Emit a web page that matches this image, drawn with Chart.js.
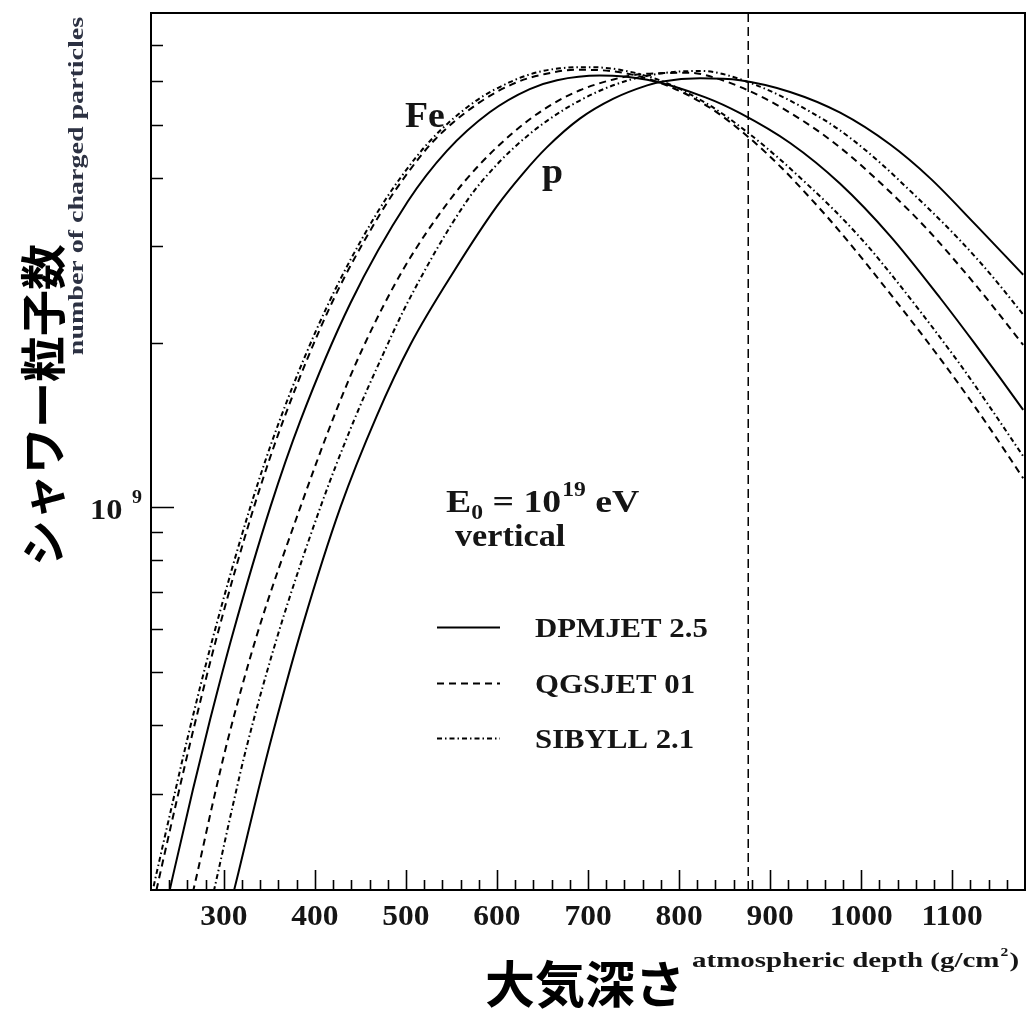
<!DOCTYPE html>
<html><head><meta charset="utf-8">
<script src="https://cdn.jsdelivr.net/npm/chart.js@4.4.0/dist/chart.umd.min.js"></script>
<style>html,body{margin:0;padding:0;background:#fff;}canvas{display:block;}</style>
</head><body>
<canvas id="c" width="1028" height="1015"></canvas>
<script>
// ---- data (depth in g/cm^2, number of charged particles) ----
const depthDpmjetFe = [240, 244, 266, 285, 310, 351, 384, 439, 502, 545, 592, 636, 666, 713, 765, 829, 867, 922, 977, 1032, 1087, 1123, 1153, 1178];
const nDpmjetFe     = [1.98e8, 2.12e8, 3.05e8, 4.10e8, 5.89e8, 1.00e9, 1.439e9, 2.36e9, 3.62e9, 4.48e9, 5.27e9, 5.81e9, 6.03e9, 6.15e9, 6.04e9, 5.61e9, 5.25e9, 4.63e9, 3.90e9, 3.13e9, 2.41e9, 2.01e9, 1.72e9, 1.507e9];

const depthDpmjetP = [311, 316, 338, 354, 387, 428, 468, 505, 554, 600, 629, 655, 691, 728, 765, 782, 823, 867, 922, 977, 1032, 1076, 1123, 1178];
const nDpmjetP     = [1.99e8, 2.15e8, 3.05e8, 3.88e8, 6.12e8, 1.00e9, 1.47e9, 1.984e9, 2.72e9, 3.55e9, 4.08e9, 4.55e9, 5.13e9, 5.58e9, 5.90e9, 6.00e9, 6.08e9, 6.03e9, 5.74e9, 5.26e9, 4.60e9, 3.99e9, 3.32e9, 2.66e9];

const depthQgsjetFe = [226, 228, 249, 265, 293, 333, 366, 419, 470, 499, 532, 580, 622, 653, 686, 724, 782, 834, 876, 914, 941, 963, 985, 1007, 1092, 1142, 1178];
const nQgsjetFe     = [2.00e8, 2.07e8, 2.95e8, 3.83e8, 5.86e8, 1.00e9, 1.452e9, 2.37e9, 3.40e9, 4.02e9, 4.70e9, 5.48e9, 5.98e9, 6.19e9, 6.30e9, 6.27e9, 5.94e9, 5.37e9, 4.75e9, 4.15e9, 3.72e9, 3.39e9, 3.07e9, 2.77e9, 1.82e9, 1.39e9, 1.13e9];

const depthQgsjetP = [266, 272, 287, 304, 336, 384, 424, 453, 497, 548, 581, 618, 655, 691, 728, 757, 812, 845, 892, 925, 955, 985, 1013, 1039, 1072, 1101, 1123, 1142, 1178];
const nQgsjetP     = [1.98e8, 2.19e8, 2.84e8, 3.74e8, 5.82e8, 1.00e9, 1.51e9, 1.96e9, 2.72e9, 3.64e9, 4.23e9, 4.84e9, 5.38e9, 5.78e9, 6.05e9, 6.18e9, 6.22e9, 6.05e9, 5.61e9, 5.22e9, 4.84e9, 4.43e9, 4.03e9, 3.67e9, 3.23e9, 2.85e9, 2.58e9, 2.36e9, 1.98e9];

const depthSibyllFe = [220, 222, 244, 261, 288, 329, 362, 414, 466, 495, 528, 575, 614, 642, 669, 702, 735, 782, 834, 876, 911, 941, 969, 996, 1021, 1105, 1142, 1178];
const nSibyllFe     = [1.93e8, 2.00e8, 2.90e8, 3.84e8, 5.78e8, 1.00e9, 1.452e9, 2.34e9, 3.40e9, 4.02e9, 4.70e9, 5.50e9, 5.98e9, 6.22e9, 6.34e9, 6.37e9, 6.30e9, 6.00e9, 5.42e9, 4.83e9, 4.32e9, 3.89e9, 3.51e9, 3.15e9, 2.82e9, 1.86e9, 1.52e9, 1.24e9];

const depthSibyllP = [289, 293, 310, 325, 358, 406, 442, 475, 502, 567, 600, 636, 673, 710, 746, 782, 823, 881, 958, 988, 1021, 1050, 1079, 1105, 1131, 1156, 1178];
const nSibyllP     = [1.99e8, 2.13e8, 2.86e8, 3.65e8, 5.75e8, 1.00e9, 1.429e9, 1.905e9, 2.37e9, 3.63e9, 4.23e9, 4.81e9, 5.32e9, 5.74e9, 6.04e9, 6.21e9, 6.27e9, 5.94e9, 5.12e9, 4.73e9, 4.26e9, 3.84e9, 3.45e9, 3.12e9, 2.80e9, 2.50e9, 2.25e9];

const xMin = 220, xMax = 1180;
const yMin = 2e8, yMax = 8e9;
const refDepth = 876;   // vertical dashed marker

const xMajorTicks = [300, 400, 500, 600, 700, 800, 900, 1000, 1100];
const xTickLabels = ['300', '400', '500', '600', '700', '800', '900', '1000', '1100'];
const xMinorTicks = [240, 260, 280, 320, 340, 360, 380, 420, 440, 460, 480, 520, 540, 560, 580, 620, 640, 660, 680, 720, 740, 760, 780, 820, 840, 860, 880, 920, 940, 960, 980, 1020, 1040, 1060, 1080, 1120, 1140, 1160];
const yMajorTicks = [1e9];
const yMinorTicks = [3e8, 4e8, 5e8, 6e8, 7e8, 8e8, 9e8, 2e9, 3e9, 4e9, 5e9, 6e9, 7e9];

const modelNames = ['DPMJET 2.5', 'QGSJET 01', 'SIBYLL 2.1'];
const dashSolid = [], dashDash = [7, 5], dashDot = [5, 3, 1.5, 3];

const zip = (xs, ys) => xs.map((v, i) => ({x: v, y: ys[i]}));
function ds(label, xs, ys, dash) {
  return {label, data: zip(xs, ys), borderColor: '#000', borderWidth: 2, borderDash: dash,
          showLine: true, pointRadius: 0, cubicInterpolationMode: 'monotone', fill: false};
}

const datasets = [
  ds('DPMJET Fe', depthDpmjetFe, nDpmjetFe, dashSolid),
  ds('DPMJET p', depthDpmjetP, nDpmjetP, dashSolid),
  ds('QGSJET Fe', depthQgsjetFe, nQgsjetFe, dashDash),
  ds('QGSJET p', depthQgsjetP, nQgsjetP, dashDash),
  ds('SIBYLL Fe', depthSibyllFe, nSibyllFe, dashDot),
  ds('SIBYLL p', depthSibyllP, nSibyllP, dashDot),
  {label: 'ref', data: [{x: refDepth, y: yMin}, {x: refDepth, y: yMax}], borderColor: '#000', borderWidth: 1.5,
   borderDash: [9, 5], showLine: true, pointRadius: 0, fill: false}
];

function txt(ctx, s, x, y, font, o = {}) {
  ctx.save();
  ctx.translate(x, y);
  if (o.rot) ctx.rotate(o.rot);
  ctx.scale(o.sx || 1, 1);
  ctx.font = font;
  ctx.textAlign = o.align || 'left';
  ctx.textBaseline = o.base || 'alphabetic';
  ctx.fillStyle = o.color || '#151515';
  ctx.fillText(s, 0, 0);
  ctx.restore();
}
function w(ctx, s, font, sx = 1) { ctx.font = font; return ctx.measureText(s).width * sx; }

const SERIF = '"Liberation Serif", "Times New Roman", serif';
const CJK = '"Noto Sans CJK JP", "Noto Sans CJK SC", sans-serif';

const overlay = {
  id: 'overlay',
  afterDatasetsDraw(chart) {
    const {ctx, chartArea: a, scales: {x, y}} = chart;
    ctx.save();
    ctx.setLineDash([]);
    ctx.strokeStyle = '#000';
    // ticks
    ctx.lineWidth = 1.6;
    ctx.beginPath();
    xMajorTicks.forEach(v => { const p = Math.round(x.getPixelForValue(v)) + 0.5; ctx.moveTo(p, a.bottom); ctx.lineTo(p, a.bottom - 20); });
    xMinorTicks.forEach(v => { const p = Math.round(x.getPixelForValue(v)) + 0.5; ctx.moveTo(p, a.bottom); ctx.lineTo(p, a.bottom - 10); });
    yMajorTicks.forEach(v => { const p = Math.round(y.getPixelForValue(v)) + 0.5; ctx.moveTo(a.left, p); ctx.lineTo(a.left + 23, p); });
    yMinorTicks.forEach(v => { const p = Math.round(y.getPixelForValue(v)) + 0.5; ctx.moveTo(a.left, p); ctx.lineTo(a.left + 12, p); });
    ctx.stroke();
    // frame
    ctx.lineWidth = 2;
    ctx.strokeRect(a.left, a.top, a.right - a.left, a.bottom - a.top);

    // x tick labels
    const fTick = 'bold 30px ' + SERIF;
    xMajorTicks.forEach((v, i) => txt(ctx, xTickLabels[i], x.getPixelForValue(v), 925, fTick, {align: 'center', sx: 1.05}));
    // y tick label 10^9
    const y9 = y.getPixelForValue(yMajorTicks[0]);
    txt(ctx, '10', 90, y9 + 12, 'bold 30px ' + SERIF, {sx: 1.08});
    txt(ctx, '9', 132, y9 - 4, 'bold 19px ' + SERIF, {sx: 1.05});

    // axis titles (English)
    txt(ctx, 'atmospheric depth (g/cm', 692, 967, 'bold 21px ' + SERIF, {sx: 1.38});
    const wAt = w(ctx, 'atmospheric depth (g/cm', 'bold 21px ' + SERIF, 1.38);
    txt(ctx, '2', 692 + wAt + 1, 956, 'bold 13px ' + SERIF, {sx: 1.2});
    txt(ctx, ')', 692 + wAt + 10, 967, 'bold 21px ' + SERIF, {sx: 1.38});
    txt(ctx, 'number of charged particles', 83, 186, 'bold 20px ' + SERIF, {rot: -Math.PI / 2, align: 'center', sx: 1.4, color: '#2c3142'});

    // Japanese titles
    txt(ctx, '大気深さ', 585, 1003, 'bold 50px ' + CJK, {align: 'center', color: '#000'});
    txt(ctx, 'シャワー粒子数', 60, 405, 'bold 46px ' + CJK, {rot: -Math.PI / 2, align: 'center', color: '#000'});

    // curve labels
    txt(ctx, 'Fe', 405, 127, 'bold 36px ' + SERIF, {sx: 1.05});
    txt(ctx, 'p', 542, 183, 'bold 36px ' + SERIF, {sx: 1.05});

    // energy annotation
    const fBig = 'bold 32px ' + SERIF, fSm = 'bold 20px ' + SERIF, sx = 1.18;
    let cx = 446; const base = 512;
    txt(ctx, 'E', cx, base, fBig, {sx}); cx += w(ctx, 'E', fBig, sx);
    txt(ctx, '0', cx, base + 7, fSm, {sx}); cx += w(ctx, '0', fSm, sx);
    txt(ctx, ' = 10', cx, base, fBig, {sx}); cx += w(ctx, ' = 10', fBig, sx);
    txt(ctx, '19', cx + 1, base - 16, fSm, {sx}); cx += w(ctx, '19', fSm, sx) + 1;
    txt(ctx, ' eV', cx, base, fBig, {sx});
    txt(ctx, 'vertical', 455, 546, fBig, {sx: 1.07});

    // legend
    const rows = [627, 683, 738];
    const dashes = [dashSolid, dashDash, dashDot];
    rows.forEach((ry, i) => {
      ctx.save();
      ctx.lineWidth = 2; ctx.setLineDash(dashes[i]);
      ctx.beginPath(); ctx.moveTo(437, ry + 0.5); ctx.lineTo(500, ry + 0.5); ctx.stroke();
      ctx.restore();
      txt(ctx, modelNames[i], 535, ry + 10, 'bold 28px ' + SERIF, {sx: 1.1});
    });
    ctx.restore();
  }
};

new Chart(document.getElementById('c'), {
  type: 'scatter',
  data: {datasets},
  options: {
    responsive: false, animation: false, devicePixelRatio: 1,
    layout: {padding: {left: 151, top: 13, right: 3, bottom: 125}},
    plugins: {legend: {display: false}, tooltip: {enabled: false}},
    scales: {
      x: {type: 'linear', min: xMin, max: xMax, display: false},
      y: {type: 'logarithmic', min: yMin, max: yMax, display: false}
    }
  },
  plugins: [overlay]
});
</script>
</body></html>
